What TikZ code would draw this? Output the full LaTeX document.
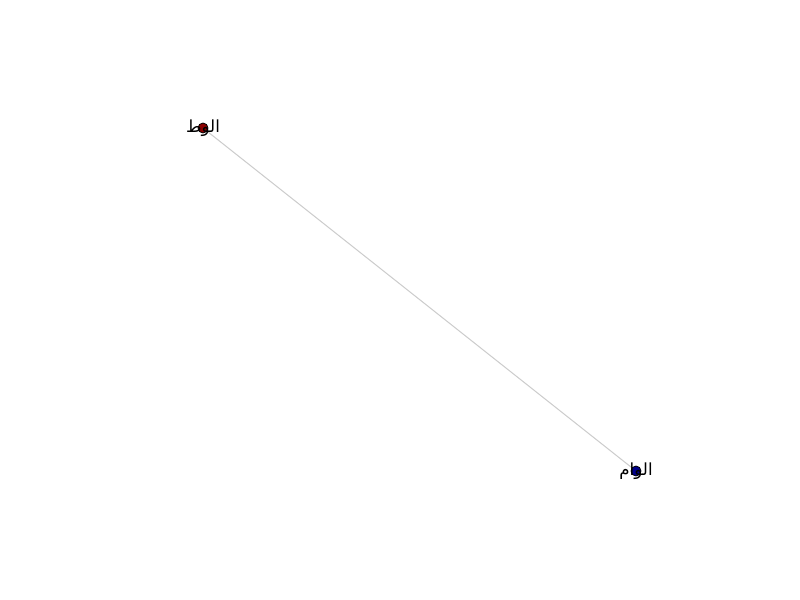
\documentclass[tikz,border=0pt]{standalone}
\usepackage{fontspec}
\TeXXeTstate=1
\newfontfamily\arabicfont[Script=Arabic]{DejaVu Sans}
\definecolor{edgegray}{HTML}{CCCCCC}
\definecolor{nodered}{HTML}{8B0000}
\definecolor{nodeblue}{HTML}{00008B}
\tikzset{
  gnode/.style={circle, draw=black, line width=0.6pt, minimum size=7.5pt, inner sep=0pt},
  glabel/.style={font=\arabicfont\fontsize{12.5}{14}\selectfont, inner sep=0pt, text=black},
  gedge/.style={draw=edgegray, line width=0.75pt}
}
\begin{document}
\begin{tikzpicture}[x=0.75pt,y=-0.75pt]
\useasboundingbox (0,0) rectangle (800,600);
\fill[white] (0,0) rectangle (800,600);
\node[gnode, fill=nodered] (a) at (203,128) {};
\node[gnode, fill=nodeblue] (b) at (636,471) {};
\draw[gedge] (a) -- (b);
\node[glabel] (la) at (203,128) {\beginR الوط\endR};
\node[glabel] (lb) at (636,471) {\beginR الوام\endR};
\end{tikzpicture}
\end{document}
